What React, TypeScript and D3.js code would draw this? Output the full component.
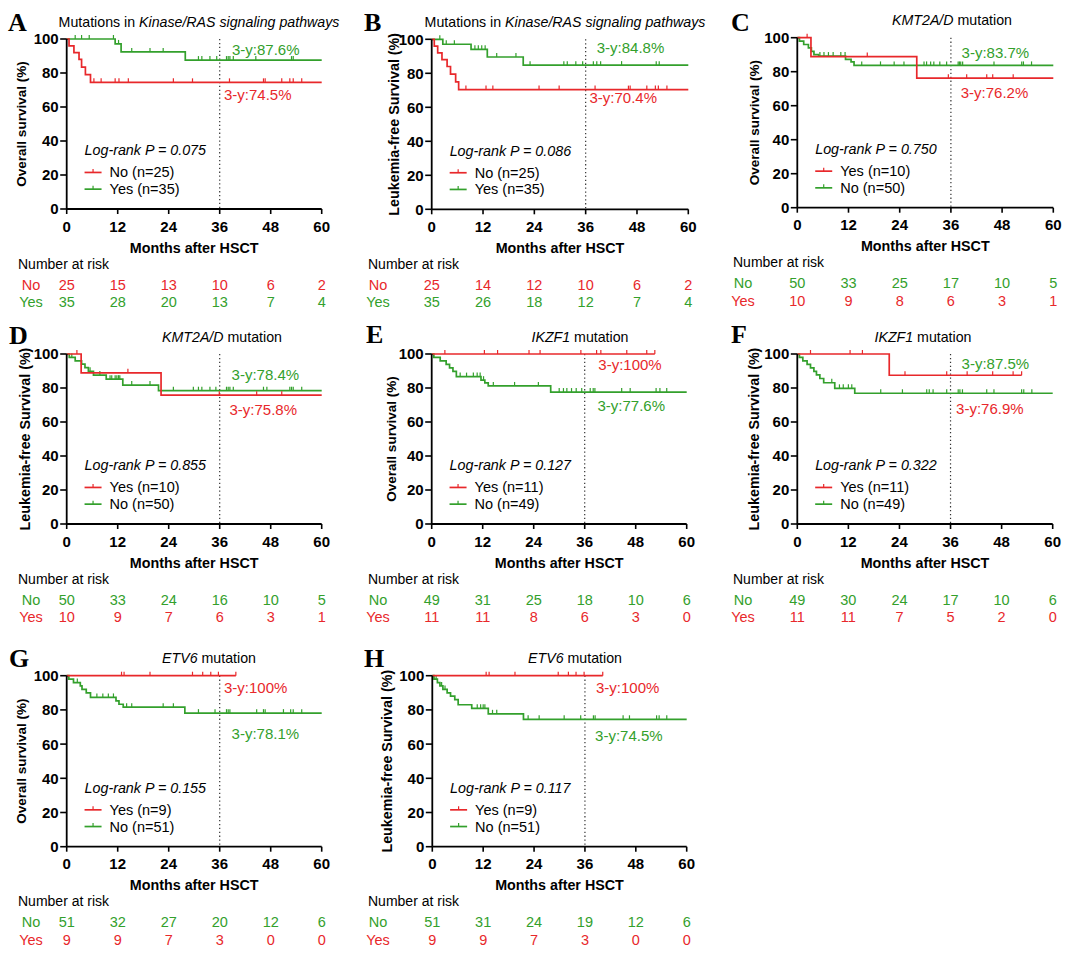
import React from 'react';
import * as d3 from 'd3';

const RED = '#e8282b';
const GREEN = '#33a02c';
const FONT = "Arial, 'Liberation Sans', Helvetica, sans-serif";

const xTicks = [0, 12, 24, 36, 48, 60];
const yTicks = [0, 20, 40, 60, 80, 100];

// ---------- Panel A (OS, Kinase/RAS) ----------
const A_no_steps = [[0.55, 96], [1.7, 92], [2.9, 88], [3.5, 83.5], [4.4, 79], [5.6, 74.5]];
const A_no_censor = [6.4, 8.1, 11.4, 12.3, 14.5, 25.1, 29.6, 38.3, 46.3, 46.7, 50.6, 52.5, 53.3, 55.3];
const A_yes_steps = [[11.4, 97.1], [12.8, 92.4], [27.9, 87.6]];
const A_yes_censor = [2.0, 3.5, 5.3, 11.0, 12.2, 15.3, 19.6, 22.7, 31.0, 31.8, 33.7, 35.3, 37.6, 38.0, 38.4, 39.2, 44.5, 52.9, 53.3];
const A_risk_no = [25, 15, 13, 10, 6, 2];
const A_risk_yes = [35, 28, 20, 13, 7, 4];

// ---------- Panel B (LFS, Kinase/RAS) ----------
const B_no_steps = [[0.6, 96], [1.4, 92], [2.4, 88], [3.6, 84], [4.4, 79.5], [5.6, 75], [6.3, 70.4]];
const B_no_censor = [8.0, 12.7, 14.3, 25.1, 29.8, 38.2, 46.0, 46.4, 50.3, 52.3, 53.0, 55.0];
const B_yes_steps = [[2.6, 97.1], [9.2, 94.1], [13.0, 89.6], [21.4, 84.8]];
const B_yes_censor = [1.9, 3.4, 5.3, 10.1, 10.9, 11.7, 12.5, 15.2, 19.7, 23.0, 30.9, 31.7, 33.7, 35.3, 37.8, 38.6, 39.5, 44.4, 52.5, 53.2];
const B_risk_no = [25, 14, 12, 10, 6, 2];
const B_risk_yes = [35, 26, 18, 12, 7, 4];

// ---------- Panel C (OS, KMT2A/D) ----------
const C_yes_steps = [[3.2, 88.9], [28.0, 76.2]];
const C_yes_censor = [2.3, 16.4, 35.4, 39.7, 44.4, 45.8, 50.6];
const C_no_steps = [[0.5, 98], [1.5, 96], [2.6, 94], [3.3, 92], [3.9, 90], [5.0, 89.2], [11.3, 87.3], [12.6, 85.8], [13.3, 83.7]];
const C_no_censor = [5.3, 6.25, 7.3, 8.4, 10.2, 11.2, 15.1, 19.5, 22.7, 25.0, 29.7, 30.3, 31.25, 32.0, 33.4, 35.0, 37.7, 38.0, 38.3, 38.75, 46.1, 52.6, 53.0, 54.9];
const C_risk_no = [50, 33, 25, 17, 10, 5];
const C_risk_yes = [10, 9, 8, 6, 3, 1];

// ---------- Panel D (LFS, KMT2A/D) ----------
const D_yes_steps = [[3.4, 88.9], [22.2, 75.8]];
const D_yes_censor = [2.4, 14.4, 35.9, 44.7, 50.6];
const D_no_steps = [[0.6, 98], [2.0, 96], [3.5, 94], [4.3, 92], [5.1, 89.8], [6.3, 87.6], [9.3, 85.2], [13.2, 81.7], [21.6, 78.4]];
const D_no_censor = [1.2, 5.5, 7.8, 10.2, 10.6, 11.4, 11.8, 12.2, 12.5, 15.3, 19.6, 25.1, 29.8, 31.0, 31.8, 33.7, 35.1, 37.6, 38.0, 38.4, 39.2, 46.3, 47.1, 52.5, 52.9, 53.3, 55.3];
const D_risk_no = [50, 33, 24, 16, 10, 5];
const D_risk_yes = [10, 9, 7, 6, 3, 1];

// ---------- Panel E (OS, IKZF1) ----------
const E_yes_steps: number[][] = [];
const E_yes_censor = [3.1, 12.4, 15.5, 22.9, 25.5, 35.1, 38.8, 39.8, 45.9, 50.6, 52.5];
const E_no_steps = [[0.5, 98], [2.0, 96], [3.4, 93.9], [4.2, 91.8], [5.0, 89.8], [5.8, 86.7], [11.6, 84.6], [12.5, 83.0], [13.3, 81.2], [28.0, 77.6]];
const E_no_censor = [6.7, 8.2, 9.8, 10.7, 11.4, 12.2, 14.5, 19.5, 25.1, 30.0, 31.0, 31.8, 32.9, 34.0, 35.3, 37.3, 38.0, 38.4, 44.7, 46.7, 52.8, 53.7, 55.3];
const E_risk_no = [49, 31, 25, 18, 10, 6];
const E_risk_yes = [11, 11, 8, 6, 3, 0];

// ---------- Panel F (LFS, IKZF1) ----------
const F_yes_steps = [[21.6, 87.5]];
const F_yes_censor = [3.1, 12.4, 15.3, 25.3, 35.1, 39.9, 45.9, 50.7, 52.7];
const F_no_steps = [[0.5, 98], [1.3, 96], [2.3, 93.9], [3.1, 91.8], [3.9, 89.8], [4.5, 87.7], [5.3, 85.6], [6.2, 83.1], [8.8, 79.8], [13.5, 76.9]];
const F_no_censor = [8.1, 9.9, 10.8, 12.0, 12.8, 19.6, 24.7, 30.4, 31.0, 31.9, 35.1, 37.8, 38.2, 38.8, 44.5, 46.2, 52.7, 53.2, 55.1];
const F_risk_no = [49, 30, 24, 17, 10, 6];
const F_risk_yes = [11, 11, 7, 5, 2, 0];

// ---------- Panel G (OS, ETV6) ----------
const G_yes_steps: number[][] = [];
const G_yes_censor = [12.9, 13.5, 19.6, 29.6, 32.0, 33.9, 35.7, 39.8];
const G_no_steps = [[0.5, 98], [1.6, 96], [3.2, 94], [3.6, 92], [4.6, 90], [5.6, 87.3], [11.6, 85.3], [12.3, 83.3], [13.3, 81.6], [27.8, 78.1]];
const G_no_censor = [2.5, 7.1, 8.5, 9.8, 11.0, 14.1, 15.3, 22.7, 25.1, 31.0, 34.9, 37.6, 38.0, 38.4, 44.7, 46.3, 46.7, 51.0, 52.7, 53.3, 55.3];
const G_risk_no = [51, 32, 27, 20, 12, 6];
const G_risk_yes = [9, 9, 7, 3, 0, 0];

// ---------- Panel H (LFS, ETV6) ----------
const H_yes_steps: number[][] = [];
const H_yes_censor = [12.7, 13.4, 19.5, 29.7, 32.1, 33.9, 35.8, 40.2];
const H_no_steps = [[0.4, 98], [1.2, 96], [1.8, 94], [2.5, 92], [3.5, 90], [4.3, 88], [5.3, 86], [6.1, 83], [9.3, 80.9], [13.2, 77.7], [21.5, 74.5]];
const H_no_censor = [0.9, 2.2, 3.0, 10.6, 11.4, 12.0, 12.4, 14.2, 15.2, 22.6, 25.2, 31.1, 35.0, 38.0, 38.4, 45.0, 46.5, 52.9, 53.5, 55.3];
const H_risk_no = [51, 31, 24, 19, 12, 6];
const H_risk_yes = [9, 9, 7, 3, 0, 0];

const pValues = ['0.075', '0.086', '0.750', '0.855', '0.127', '0.322', '0.155', '0.117'];

type Curve = { label: string; color: string; steps: number[][]; censors: number[]; end: number };
type Risk = { label: string; color: string; values: number[] };
type Lab = { text: string; color: string; t: number; s: number };
type TitlePart = { t: string; i?: boolean };
type PanelCfg = {
  letter: string; letterX: number; letterY: number;
  x0: number; x1: number; yT: number; yB: number;
  titleX: number; title: TitlePart[];
  yLabel: string; yLabelX: number; yLabelSize: number;
  curves: Curve[]; legend: Curve[]; risk: Risk[];
  p: string; labels: Lab[];
  narX: number; riskLabelX: number;
};

const mk = (label: string, color: string, steps: number[][], censors: number[], end: number): Curve => ({ label, color, steps, censors, end });

const titleKinase: TitlePart[] = [{ t: 'Mutations in ' }, { t: 'Kinase/RAS signaling pathways', i: true }];
const gTitle = (g: string): TitlePart[] => [{ t: g, i: true }, { t: ' mutation' }];
const OS = 'Overall survival (%)';
const LFS = 'Leukemia-free Survival (%)';
const OSZ = 13.5;
const LFSZ = 14.3;

const Ano = mk('No (n=25)', RED, A_no_steps, A_no_censor, 60);
const Ayes = mk('Yes (n=35)', GREEN, A_yes_steps, A_yes_censor, 60);
const Bno = mk('No (n=25)', RED, B_no_steps, B_no_censor, 60);
const Byes = mk('Yes (n=35)', GREEN, B_yes_steps, B_yes_censor, 60);
const Cyes = mk('Yes (n=10)', RED, C_yes_steps, C_yes_censor, 60);
const Cno = mk('No (n=50)', GREEN, C_no_steps, C_no_censor, 60);
const Dyes = mk('Yes (n=10)', RED, D_yes_steps, D_yes_censor, 60);
const Dno = mk('No (n=50)', GREEN, D_no_steps, D_no_censor, 60);
const Eyes = mk('Yes (n=11)', RED, E_yes_steps, E_yes_censor, 52.5);
const Eno = mk('No (n=49)', GREEN, E_no_steps, E_no_censor, 60);
const Fyes = mk('Yes (n=11)', RED, F_yes_steps, F_yes_censor, 52.7);
const Fno = mk('No (n=49)', GREEN, F_no_steps, F_no_censor, 60);
const Gyes = mk('Yes (n=9)', RED, G_yes_steps, G_yes_censor, 39.8);
const Gno = mk('No (n=51)', GREEN, G_no_steps, G_no_censor, 60);
const Hyes = mk('Yes (n=9)', RED, H_yes_steps, H_yes_censor, 40.2);
const Hno = mk('No (n=51)', GREEN, H_no_steps, H_no_censor, 60);

const r = (label: string, color: string, values: number[]): Risk => ({ label, color, values });

const panels: PanelCfg[] = [
  { letter: 'A', letterX: 8, letterY: 31, x0: 66.7, x1: 321.7, yT: 39, yB: 209, titleX: 199, title: titleKinase, yLabel: OS, yLabelX: 21, yLabelSize: OSZ,
    curves: [Ayes, Ano], legend: [Ano, Ayes], risk: [r('No', RED, A_risk_no), r('Yes', GREEN, A_risk_yes)], p: pValues[0],
    labels: [{ text: '3-y:87.6%', color: GREEN, t: 38.9, s: 90.6 }, { text: '3-y:74.5%', color: RED, t: 37.0, s: 64.1 }], narX: 18, riskLabelX: 31 },
  { letter: 'B', letterX: 364, letterY: 31, x0: 431.7, x1: 688.3, yT: 39.3, yB: 209.3, titleX: 565, title: titleKinase, yLabel: LFS, yLabelX: 394, yLabelSize: LFSZ,
    curves: [Byes, Bno], legend: [Bno, Byes], risk: [r('No', RED, B_risk_no), r('Yes', GREEN, B_risk_yes)], p: pValues[1],
    labels: [{ text: '3-y:84.8%', color: GREEN, t: 38.6, s: 91.8 }, { text: '3-y:70.4%', color: RED, t: 36.9, s: 62.5 }], narX: 368, riskLabelX: 378 },
  { letter: 'C', letterX: 731, letterY: 31, x0: 797.3, x1: 1053.3, yT: 37.7, yB: 207.7, titleX: 952, title: gTitle('KMT2A/D'), yLabel: OS, yLabelX: 754, yLabelSize: OSZ,
    curves: [Cno, Cyes], legend: [Cyes, Cno], risk: [r('No', GREEN, C_risk_no), r('Yes', RED, C_risk_yes)], p: pValues[2],
    labels: [{ text: '3-y:83.7%', color: GREEN, t: 38.5, s: 87.9 }, { text: '3-y:76.2%', color: RED, t: 38.3, s: 64.4 }], narX: 733, riskLabelX: 743 },
  { letter: 'D', letterX: 9, letterY: 344, x0: 66.7, x1: 321.7, yT: 354, yB: 524, titleX: 222, title: gTitle('KMT2A/D'), yLabel: LFS, yLabelX: 25, yLabelSize: LFSZ,
    curves: [Dno, Dyes], legend: [Dyes, Dno], risk: [r('No', GREEN, D_risk_no), r('Yes', RED, D_risk_yes)], p: pValues[3],
    labels: [{ text: '3-y:78.4%', color: GREEN, t: 38.8, s: 84.7 }, { text: '3-y:75.8%', color: RED, t: 38.3, s: 64.1 }], narX: 18, riskLabelX: 31 },
  { letter: 'E', letterX: 366, letterY: 343, x0: 431.7, x1: 686.7, yT: 354, yB: 524, titleX: 580, title: gTitle('IKZF1'), yLabel: OS, yLabelX: 391, yLabelSize: OSZ,
    curves: [Eno, Eyes], legend: [Eyes, Eno], risk: [r('No', GREEN, E_risk_no), r('Yes', RED, E_risk_yes)], p: pValues[4],
    labels: [{ text: '3-y:100%', color: RED, t: 39.2, s: 90.6 }, { text: '3-y:77.6%', color: GREEN, t: 39.0, s: 66.6 }], narX: 368, riskLabelX: 378 },
  { letter: 'F', letterX: 731, letterY: 343, x0: 797.3, x1: 1052.7, yT: 354, yB: 524, titleX: 923, title: gTitle('IKZF1'), yLabel: LFS, yLabelX: 754, yLabelSize: LFSZ,
    curves: [Fno, Fyes], legend: [Fyes, Fno], risk: [r('No', GREEN, F_risk_no), r('Yes', RED, F_risk_yes)], p: pValues[5],
    labels: [{ text: '3-y:87.5%', color: GREEN, t: 38.6, s: 91.0 }, { text: '3-y:76.9%', color: RED, t: 37.3, s: 64.5 }], narX: 733, riskLabelX: 743 },
  { letter: 'G', letterX: 9, letterY: 667, x0: 66.7, x1: 321.7, yT: 675.7, yB: 846.7, titleX: 209, title: gTitle('ETV6'), yLabel: OS, yLabelX: 21, yLabelSize: OSZ,
    curves: [Gno, Gyes], legend: [Gyes, Gno], risk: [r('No', GREEN, G_risk_no), r('Yes', RED, G_risk_yes)], p: pValues[6],
    labels: [{ text: '3-y:100%', color: RED, t: 37.0, s: 89.7 }, { text: '3-y:78.1%', color: GREEN, t: 38.8, s: 63.0 }], narX: 18, riskLabelX: 31 },
  { letter: 'H', letterX: 364, letterY: 667, x0: 432.3, x1: 686.7, yT: 675.7, yB: 846.7, titleX: 575, title: gTitle('ETV6'), yLabel: LFS, yLabelX: 387, yLabelSize: LFSZ,
    curves: [Hno, Hyes], legend: [Hyes, Hno], risk: [r('No', GREEN, H_risk_no), r('Yes', RED, H_risk_yes)], p: pValues[7],
    labels: [{ text: '3-y:100%', color: RED, t: 38.6, s: 89.7 }, { text: '3-y:74.5%', color: GREEN, t: 38.4, s: 62.0 }], narX: 368, riskLabelX: 378 },
];

function survAt(c: Curve, t: number) {
  let s = 100;
  for (const [st, sv] of c.steps) if (st <= t) s = sv;
  return s;
}

function Panel({ p }: { p: PanelCfg }) {
  const x = d3.scaleLinear().domain([0, 60]).range([p.x0, p.x1]);
  const y = d3.scaleLinear().domain([0, 100]).range([p.yB, p.yT]);
  const line = d3.line<number[]>().x(d => x(d[0])).y(d => y(d[1])).curve(d3.curveStepAfter);
  const legX = x(4.2);
  const legY = y(31.5);
  const cy = (p.yT + p.yB) / 2;
  return (
    <g fontFamily={FONT}>
      <text x={p.letterX} y={p.letterY} fontFamily="'Liberation Serif', 'Times New Roman', serif" fontWeight="bold" fontSize={26}>{p.letter}</text>
      <text x={p.titleX} y={p.yT - 12.5} textAnchor="middle" fontSize={14.2}>
        {p.title.map((tp, i) => <tspan key={i} fontStyle={tp.i ? 'italic' : 'normal'}>{tp.t}</tspan>)}
      </text>
      <text transform={`translate(${p.yLabelX},${cy}) rotate(-90)`} textAnchor="middle" dominantBaseline="central" fontWeight="bold" fontSize={p.yLabelSize}>{p.yLabel}</text>
      {/* dotted 36-month line */}
      <line x1={x(36)} x2={x(36)} y1={y(100)} y2={y(0)} stroke="#333" strokeWidth={1.2} strokeDasharray="1.3 2.6" />
      {/* curves */}
      {p.curves.map((c, i) => {
        const pts = [[0, 100], ...c.steps, [c.end, c.steps.length ? c.steps[c.steps.length - 1][1] : 100]];
        return (
          <g key={i}>
            <path d={line(pts) || ''} fill="none" stroke={c.color} strokeWidth={1.7} />
            {c.censors.map((t, j) => (
              <line key={j} x1={x(t)} x2={x(t)} y1={y(survAt(c, t)) - 4} y2={y(survAt(c, t))} stroke={c.color} strokeWidth={1.2} />
            ))}
          </g>
        );
      })}
      {/* axes */}
      <line x1={p.x0} x2={p.x0} y1={p.yT} y2={p.yB} stroke="#000" strokeWidth={1.8} />
      <line x1={p.x0} x2={p.x1} y1={p.yB} y2={p.yB} stroke="#000" strokeWidth={1.8} />
      {yTicks.map(v => (
        <g key={v}>
          <line x1={p.x0 - 6.5} x2={p.x0} y1={y(v)} y2={y(v)} stroke="#000" strokeWidth={1.6} />
          <text x={p.x0 - 8} y={y(v)} dy="0.36em" textAnchor="end" fontWeight="bold" fontSize={15}>{v}</text>
        </g>
      ))}
      {xTicks.map(v => (
        <g key={v}>
          <line x1={x(v)} x2={x(v)} y1={p.yB} y2={p.yB + 5} stroke="#000" strokeWidth={1.6} />
          <text x={x(v)} y={p.yB + 22.5} textAnchor="middle" fontWeight="bold" fontSize={15}>{v}</text>
        </g>
      ))}
      <text x={(p.x0 + p.x1) / 2} y={p.yB + 43.5} textAnchor="middle" fontWeight="bold" fontSize={14.3}>Months after HSCT</text>
      {/* 3-year labels */}
      {p.labels.map((l, i) => (
        <text key={i} x={x(l.t)} y={y(l.s)} fill={l.color} fontSize={15}>{l.text}</text>
      ))}
      {/* legend */}
      <text x={legX} y={legY} fontStyle="italic" fontSize={14.3}>Log-rank P = {p.p}</text>
      {p.legend.map((c, i) => {
        const ly = legY + 17 + i * 16.7;
        return (
          <g key={i}>
            <line x1={legX} x2={legX + 17} y1={ly} y2={ly} stroke={c.color} strokeWidth={1.7} />
            <line x1={legX + 8.5} x2={legX + 8.5} y1={ly - 3.5} y2={ly} stroke={c.color} strokeWidth={1.2} />
            <text x={legX + 25} y={ly + 5} fontSize={14.5}>{c.label}</text>
          </g>
        );
      })}
      {/* risk table */}
      <text x={p.narX} y={p.yB + 59.5} fontSize={14}>Number at risk</text>
      {p.risk.map((rk, i) => {
        const ry = p.yB + 80.5 + i * 17.5;
        return (
          <g key={i} fill={rk.color} fontSize={14.5}>
            <text x={p.riskLabelX} y={ry} textAnchor="middle">{rk.label}</text>
            {rk.values.map((v, j) => (
              <text key={j} x={x(xTicks[j])} y={ry} textAnchor="middle">{v}</text>
            ))}
          </g>
        );
      })}
    </g>
  );
}

export default function App() {
  return (
    <div style={{ position: 'absolute', left: 0, top: 0, width: 1080, height: 963, background: '#fff' }}>
      <svg width={1080} height={963} viewBox="0 0 1080 963" style={{ display: 'block' }}>
        <rect width={1080} height={963} fill="#fff" />
        {panels.map(p => <Panel key={p.letter} p={p} />)}
      </svg>
    </div>
  );
}
